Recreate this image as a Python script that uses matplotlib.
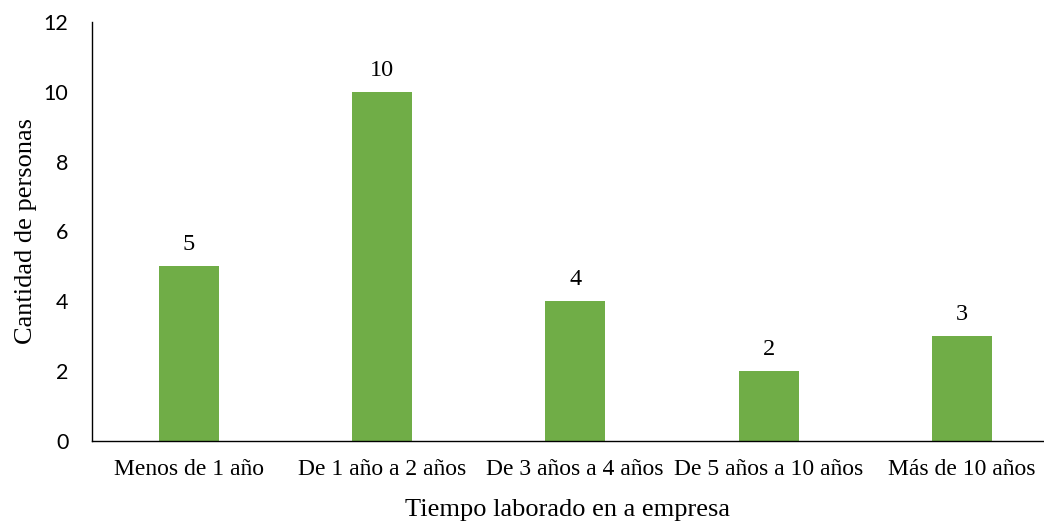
import matplotlib
matplotlib.use("Agg")
import matplotlib.pyplot as plt

categorias = ["Menos de 1 año", "De 1 año a 2 años", "De 3 años a 4 años",
              "De 5 años a 10 años", "Más de 10 años"]
personas = [5, 10, 4, 2, 3]
yticks = [0, 2, 4, 6, 8, 10, 12]

SERIF = ["Liberation Serif", "DejaVu Serif"]
GREEN = "#70AD47"

fig = plt.figure(figsize=(10.44, 5.23), dpi=100)
ax = fig.add_axes([0.0881, 0.1568, 0.9119, 0.8012])

x = range(len(categorias))
bars = ax.bar(x, personas, width=0.31, color=GREEN, zorder=2)
for b, v in zip(bars, personas):
    ax.annotate(str(v), (b.get_x() + b.get_width() / 2, v), xytext=(0, 8),
                textcoords="offset points", ha="center", va="bottom",
                fontsize=17.5, family=SERIF)

ax.set_xlim(-0.5, 4.425)
ax.set_ylim(0, 12)
ax.set_yticks(yticks)
ax.set_xticks(list(x))
ax.set_xticklabels(categorias, fontsize=17, family=SERIF)
ax.tick_params(axis="y", labelsize=15.5, length=0, pad=17)
ax.tick_params(axis="x", length=0, pad=13)
for lab in ax.get_yticklabels():
    lab.set_family(["Lato", "DejaVu Sans"])

for s in ("top", "right"):
    ax.spines[s].set_visible(False)
for s in ("left", "bottom"):
    ax.spines[s].set_color("#000000")
    ax.spines[s].set_linewidth(1.0)

ax.set_xlabel("Tiempo laborado en a empresa", fontsize=19, family=SERIF, labelpad=14)
ax.set_ylabel("Cantidad de personas", fontsize=19, family=SERIF, labelpad=5)

fig.savefig("out.png", dpi=100, facecolor="white")
